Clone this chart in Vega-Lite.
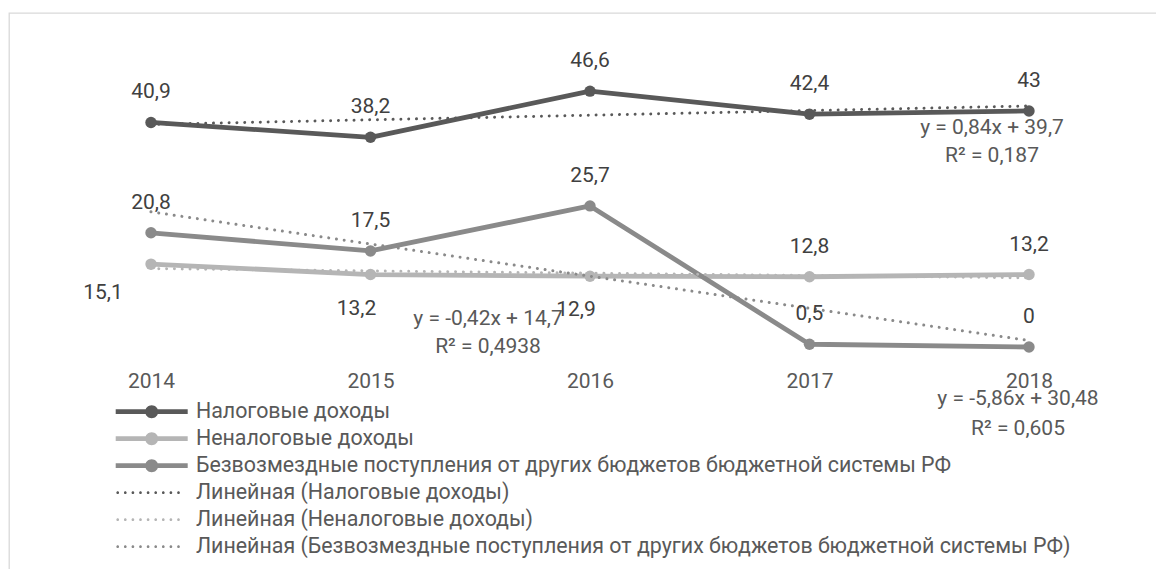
{
  "$schema": "https://vega.github.io/schema/vega-lite/v6.json",
  "width": 1147,
  "height": 556,
  "autosize": {"type": "none"},
  "padding": {"left": 9, "top": 13, "right": 0, "bottom": 0},
  "background": "white",
  "config": {
    "view": {"stroke": "#d9d9d9", "strokeWidth": 1.3, "strokeDash": [1147, 1703, 556, 0]},
    "locale": {"number": {"decimal": ",", "thousands": " ", "grouping": [3], "currency": ["", ""]}},
    "font": "Roboto"
  },
  "datasets": {
    "series": [
      {"series": "Налоговые доходы", "year": 2014, "value": 40.9},
      {"series": "Налоговые доходы", "year": 2015, "value": 38.2},
      {"series": "Налоговые доходы", "year": 2016, "value": 46.6},
      {"series": "Налоговые доходы", "year": 2017, "value": 42.4},
      {"series": "Налоговые доходы", "year": 2018, "value": 43},
      {"series": "Неналоговые доходы", "year": 2014, "value": 15.1},
      {"series": "Неналоговые доходы", "year": 2015, "value": 13.2},
      {"series": "Неналоговые доходы", "year": 2016, "value": 12.9},
      {"series": "Неналоговые доходы", "year": 2017, "value": 12.8},
      {"series": "Неналоговые доходы", "year": 2018, "value": 13.2},
      {"series": "Безвозмездные поступления от других бюджетов бюджетной системы РФ", "year": 2014, "value": 20.8},
      {"series": "Безвозмездные поступления от других бюджетов бюджетной системы РФ", "year": 2015, "value": 17.5},
      {"series": "Безвозмездные поступления от других бюджетов бюджетной системы РФ", "year": 2016, "value": 25.7},
      {"series": "Безвозмездные поступления от других бюджетов бюджетной системы РФ", "year": 2017, "value": 0.5},
      {"series": "Безвозмездные поступления от других бюджетов бюджетной системы РФ", "year": 2018, "value": 0}
    ],
    "trend": [
      {"series": "Линейная (Налоговые доходы)", "year": 2014, "value": 40.54},
      {"series": "Линейная (Налоговые доходы)", "year": 2018, "value": 43.9},
      {"series": "Линейная (Неналоговые доходы)", "year": 2014, "value": 14.28},
      {"series": "Линейная (Неналоговые доходы)", "year": 2018, "value": 12.6},
      {"series": "Линейная (Безвозмездные поступления от других бюджетов бюджетной системы РФ)", "year": 2014, "value": 24.62},
      {"series": "Линейная (Безвозмездные поступления от других бюджетов бюджетной системы РФ)", "year": 2018, "value": 1.18}
    ],
    "equations": [
      {"series": "Линейная (Налоговые доходы)", "year": 2018, "value": 43.9, "label": "y = 0,84x + 39,7\nR² = 0,187"},
      {"series": "Линейная (Неналоговые доходы)", "year": 2018, "value": 12.6, "label": "y = -0,42x + 14,7\nR² = 0,4938"},
      {"series": "Линейная (Безвозмездные поступления от других бюджетов бюджетной системы РФ)", "year": 2018, "value": 1.18, "label": "y = -5,86x + 30,48\nR² = 0,605"}
    ]
  },
  "encoding": {
    "x": {
      "field": "year", "type": "quantitative",
      "scale": {"domain": [2013.35308, 2018.57859], "nice": false, "zero": false},
      "axis": {
        "values": [2014, 2015, 2016, 2017, 2018], "format": "d", "title": null,
        "ticks": false, "domain": false, "grid": false,
        "labelFont": "Roboto", "labelFontSize": 21, "labelColor": "#595959",
        "labelPadding": 23, "offset": -222, "labelFlush": false, "labelOverlap": false
      }
    },
    "y": {
      "field": "value", "type": "quantitative",
      "scale": {"domain": [-40.437, 60.838], "nice": false, "zero": false},
      "axis": null
    }
  },
  "layer": [
    {
      "data": {"values": [{}]},
      "mark": {"type": "rule", "color": "#d9d9d9", "strokeWidth": 1.3},
      "encoding": {
        "x": {"datum": 2013.5, "type": "quantitative"},
        "x2": {"datum": 2018.5},
        "y": {"datum": 0, "type": "quantitative"}
      }
    },
    {
      "data": {"name": "series"},
      "mark": {"type": "line", "strokeWidth": 4.8, "strokeJoin": "round", "strokeCap": "round"},
      "encoding": {
        "color": {
          "field": "series", "type": "nominal",
          "scale": {
            "domain": ["Налоговые доходы", "Неналоговые доходы", "Безвозмездные поступления от других бюджетов бюджетной системы РФ", "Линейная (Налоговые доходы)", "Линейная (Неналоговые доходы)", "Линейная (Безвозмездные поступления от других бюджетов бюджетной системы РФ)"],
            "range": ["#595959", "#b5b5b5", "#8a8a8a", "#595959", "#b5b5b5", "#8a8a8a"]
          },
          "legend": {
            "orient": "none", "legendX": 132, "legendY": 388, "title": null, "direction": "vertical",
            "symbolType": "M-7.2,-0.48H7.2V0.48H-7.2Z M-1.3,0A1.3,1.3,0,1,1,1.3,0A1.3,1.3,0,1,1,-1.3,0Z",
            "symbolSize": 100, "symbolStrokeWidth": 0, "symbolOpacity": 1,
            "labelFont": "Roboto", "labelFontSize": 21.4, "labelColor": "#595959", "labelOffset": 33.5, "labelLimit": 1100,
            "rowPadding": 4, "padding": 0,
            "encode": {
              "symbols": {
                "update": {
                  "shape": {"signal": "indexof(datum.value, 'Линейная') === 0 ? 'M-7.07,0A0.27,0.27,0,1,1,-6.53,0A0.27,0.27,0,1,1,-7.07,0Z M-5.55,0A0.27,0.27,0,1,1,-5.01,0A0.27,0.27,0,1,1,-5.55,0Z M-4.03,0A0.27,0.27,0,1,1,-3.49,0A0.27,0.27,0,1,1,-4.03,0Z M-2.51,0A0.27,0.27,0,1,1,-1.97,0A0.27,0.27,0,1,1,-2.51,0Z M-0.99,0A0.27,0.27,0,1,1,-0.45,0A0.27,0.27,0,1,1,-0.99,0Z M0.53,0A0.27,0.27,0,1,1,1.07,0A0.27,0.27,0,1,1,0.53,0Z M2.05,0A0.27,0.27,0,1,1,2.59,0A0.27,0.27,0,1,1,2.05,0Z M3.57,0A0.27,0.27,0,1,1,4.11,0A0.27,0.27,0,1,1,3.57,0Z M5.09,0A0.27,0.27,0,1,1,5.63,0A0.27,0.27,0,1,1,5.09,0Z' : 'M-7.2,-0.48H7.2V0.48H-7.2Z M-1.3,0A1.3,1.3,0,1,1,1.3,0A1.3,1.3,0,1,1,-1.3,0Z'"},
                  "fill": {"scale": "color", "field": "value"},
                  "strokeWidth": {"value": 0},
                  "opacity": {"value": 1}
                }
              }
            }
          }
        }
      }
    },
    {
      "data": {"name": "series"},
      "mark": {"type": "point", "filled": true, "size": 130, "opacity": 1},
      "encoding": {"color": {"field": "series", "type": "nominal"}}
    },
    {
      "data": {"name": "trend"},
      "mark": {"type": "line", "strokeWidth": 3, "strokeDash": [0.01, 7.8], "strokeCap": "round"},
      "encoding": {"color": {"field": "series", "type": "nominal"}}
    },
    {
      "data": {"name": "series"},
      "transform": [{"filter": "!(datum.series === 'Неналоговые доходы' && datum.year <= 2016)"}],
      "mark": {"type": "text", "font": "Roboto", "fontSize": 21, "color": "#404040", "align": "center", "baseline": "alphabetic", "dy": -24},
      "encoding": {"text": {"field": "value", "type": "quantitative", "format": "~g"}}
    },
    {
      "data": {"name": "series"},
      "transform": [{"filter": "datum.series === 'Неналоговые доходы' && (datum.year === 2015 || datum.year === 2016)"}],
      "mark": {"type": "text", "font": "Roboto", "fontSize": 21, "color": "#404040", "align": "center", "baseline": "alphabetic", "dx": -14, "dy": 40},
      "encoding": {"text": {"field": "value", "type": "quantitative", "format": "~g"}}
    },
    {
      "data": {"name": "series"},
      "transform": [{"filter": "datum.series === 'Неналоговые доходы' && datum.year === 2014"}],
      "mark": {"type": "text", "font": "Roboto", "fontSize": 21, "color": "#404040", "align": "center", "baseline": "alphabetic", "dx": -48, "dy": 35},
      "encoding": {"text": {"field": "value", "type": "quantitative", "format": "~g"}}
    },
    {
      "data": {"name": "equations"},
      "transform": [{"filter": "datum.series === 'Линейная (Налоговые доходы)'"}],
      "mark": {"type": "text", "font": "Roboto", "fontSize": 21, "color": "#595959", "align": "center", "baseline": "alphabetic", "lineBreak": "\n", "lineHeight": 28, "dx": -37, "dy": 28},
      "encoding": {"text": {"field": "label", "type": "nominal"}}
    },
    {
      "data": {"name": "equations"},
      "transform": [{"filter": "datum.series === 'Линейная (Неналоговые доходы)'"}],
      "mark": {"type": "text", "font": "Roboto", "fontSize": 21, "color": "#595959", "align": "center", "baseline": "alphabetic", "lineBreak": "\n", "lineHeight": 28, "dx": -541, "dy": 47},
      "encoding": {"text": {"field": "label", "type": "nominal"}}
    },
    {
      "data": {"name": "equations"},
      "transform": [{"filter": "datum.series === 'Линейная (Безвозмездные поступления от других бюджетов бюджетной системы РФ)'"}],
      "mark": {"type": "text", "font": "Roboto", "fontSize": 21, "color": "#595959", "align": "center", "baseline": "alphabetic", "lineBreak": "\n", "lineHeight": 30, "dx": -11, "dy": 64},
      "encoding": {"text": {"field": "label", "type": "nominal"}}
    }
  ]
}
